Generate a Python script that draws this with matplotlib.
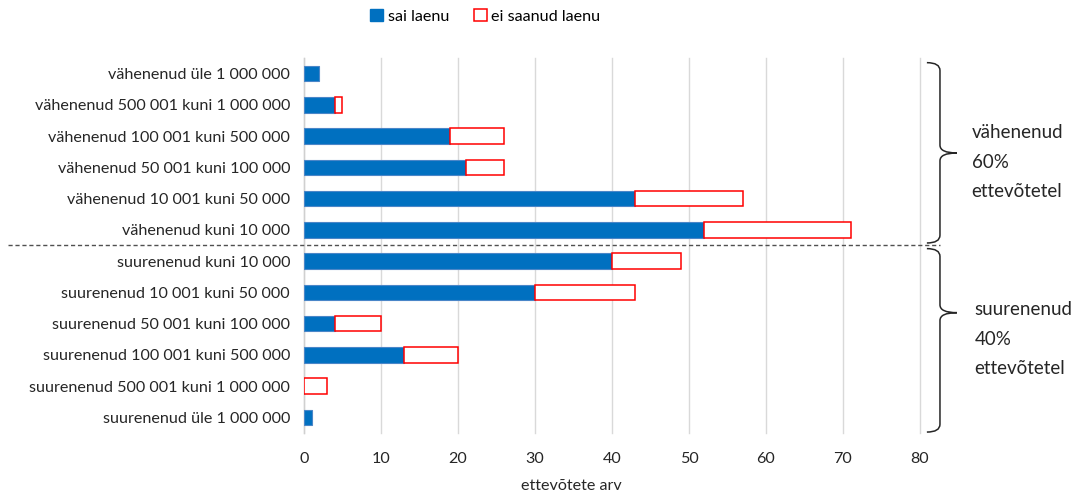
import matplotlib
matplotlib.use("Agg")
import matplotlib.pyplot as plt
import numpy as np
from matplotlib.path import Path
from matplotlib.patches import PathPatch, Patch

plt.rcParams['font.family'] = ['Lato', 'DejaVu Sans']

categories = [
    "vähenenud üle 1 000 000",
    "vähenenud 500 001 kuni 1 000 000",
    "vähenenud 100 001 kuni 500 000",
    "vähenenud 50 001 kuni 100 000",
    "vähenenud 10 001 kuni 50 000",
    "vähenenud kuni 10 000",
    "suurenenud kuni 10 000",
    "suurenenud 10 001 kuni 50 000",
    "suurenenud 50 001 kuni 100 000",
    "suurenenud 100 001 kuni 500 000",
    "suurenenud 500 001 kuni 1 000 000",
    "suurenenud üle 1 000 000",
]
sai_laenu = [2, 4, 19, 21, 43, 52, 40, 30, 4, 13, 0, 1]
ei_saanud_laenu = [0, 1, 7, 5, 14, 19, 9, 13, 6, 7, 3, 0]
series_names = ["sai laenu", "ei saanud laenu"]
x_ticks = [0, 10, 20, 30, 40, 50, 60, 70, 80]
group_texts = ["vähenenud\n60%\nettevõtetel", "suurenenud\n40%\nettevõtetel"]

BLUE = "#0070C0"
RED = "#FF0000"
TEXT = "#262626"

fig = plt.figure(figsize=(10.86, 4.93), dpi=100)
ax = fig.add_axes([0.2799, 0.1217, 0.5672, 0.7607])

y = np.arange(len(categories))
sai = np.array(sai_laenu)
ei = np.array(ei_saanud_laenu)

ax.barh(y, sai, height=0.5, color=BLUE, edgecolor="#4a86c8", linewidth=0.8, zorder=3)
mask = ei > 0
ax.barh(y[mask], ei[mask], left=sai[mask], height=0.5, color="white",
        edgecolor=RED, linewidth=1.1, zorder=3)

ax.set_xlim(0, 80)
ax.set_ylim(len(categories) - 0.5, -0.5)
ax.set_xticks(x_ticks)
ax.set_xticklabels([str(t) for t in x_ticks])
ax.set_yticks(y)
ax.set_yticklabels(categories)
ax.tick_params(axis="both", length=0, labelsize=11.6, colors=TEXT)
ax.tick_params(axis="y", pad=10)
ax.tick_params(axis="x", pad=14)
ax.xaxis.grid(True, color="#d9d9d9", linewidth=1, zorder=0)
for gl in ax.get_xgridlines():
    gl.set_clip_on(False)
ax.set_axisbelow(True)
for s in ["top", "right", "bottom"]:
    ax.spines[s].set_visible(False)
ax.spines["left"].set_color("#d0d0d0")
ax.spines["left"].set_linewidth(1)

ax.set_xlabel("ettevõtete arv", fontsize=11.6, color=TEXT)
ax.xaxis.set_label_coords(0.434, -0.122)

# dashed separator between decreased and increased groups
ax.plot([-38.4, 82.6], [5.48, 5.48], linestyle=(0, (3, 2)), color="#505050",
        linewidth=1, clip_on=False, zorder=4)


def brace(y0, y1, ym, x0=80.9, xv=82.6, xt=84.8, r=0.25):
    verts = [(x0, y0), (xv, y0), (xv, y0 + r),
             (xv, ym - r), (xv, ym), (xt, ym),
             (xv, ym), (xv, ym + r),
             (xv, y1 - r), (xv, y1), (x0, y1)]
    codes = [Path.MOVETO, Path.CURVE3, Path.CURVE3,
             Path.LINETO, Path.CURVE3, Path.CURVE3,
             Path.CURVE3, Path.CURVE3,
             Path.LINETO, Path.CURVE3, Path.CURVE3]
    ax.add_patch(PathPatch(Path(verts, codes), facecolor="none",
                           edgecolor=TEXT, linewidth=1.1, clip_on=False))


brace(-0.35, 5.42, 2.54)
brace(5.6, 11.47, 7.65)

ax.text(86.7, 2.83, group_texts[0], fontsize=13.5, color=TEXT,
        va="center", ha="left", linespacing=1.9, clip_on=False)
ax.text(87.1, 8.5, group_texts[1], fontsize=13.5, color=TEXT,
        va="center", ha="left", linespacing=1.9, clip_on=False)

handles = [Patch(facecolor=BLUE, edgecolor=BLUE),
           Patch(facecolor="white", edgecolor=RED, linewidth=1.1)]
fig.legend(handles, series_names, loc="center", bbox_to_anchor=(0.447, 0.967),
           ncol=2, frameon=False, fontsize=11.6, handlelength=0.8, handleheight=0.8,
           handletextpad=0.3, columnspacing=1.5)

fig.savefig("out.png", dpi=100)
